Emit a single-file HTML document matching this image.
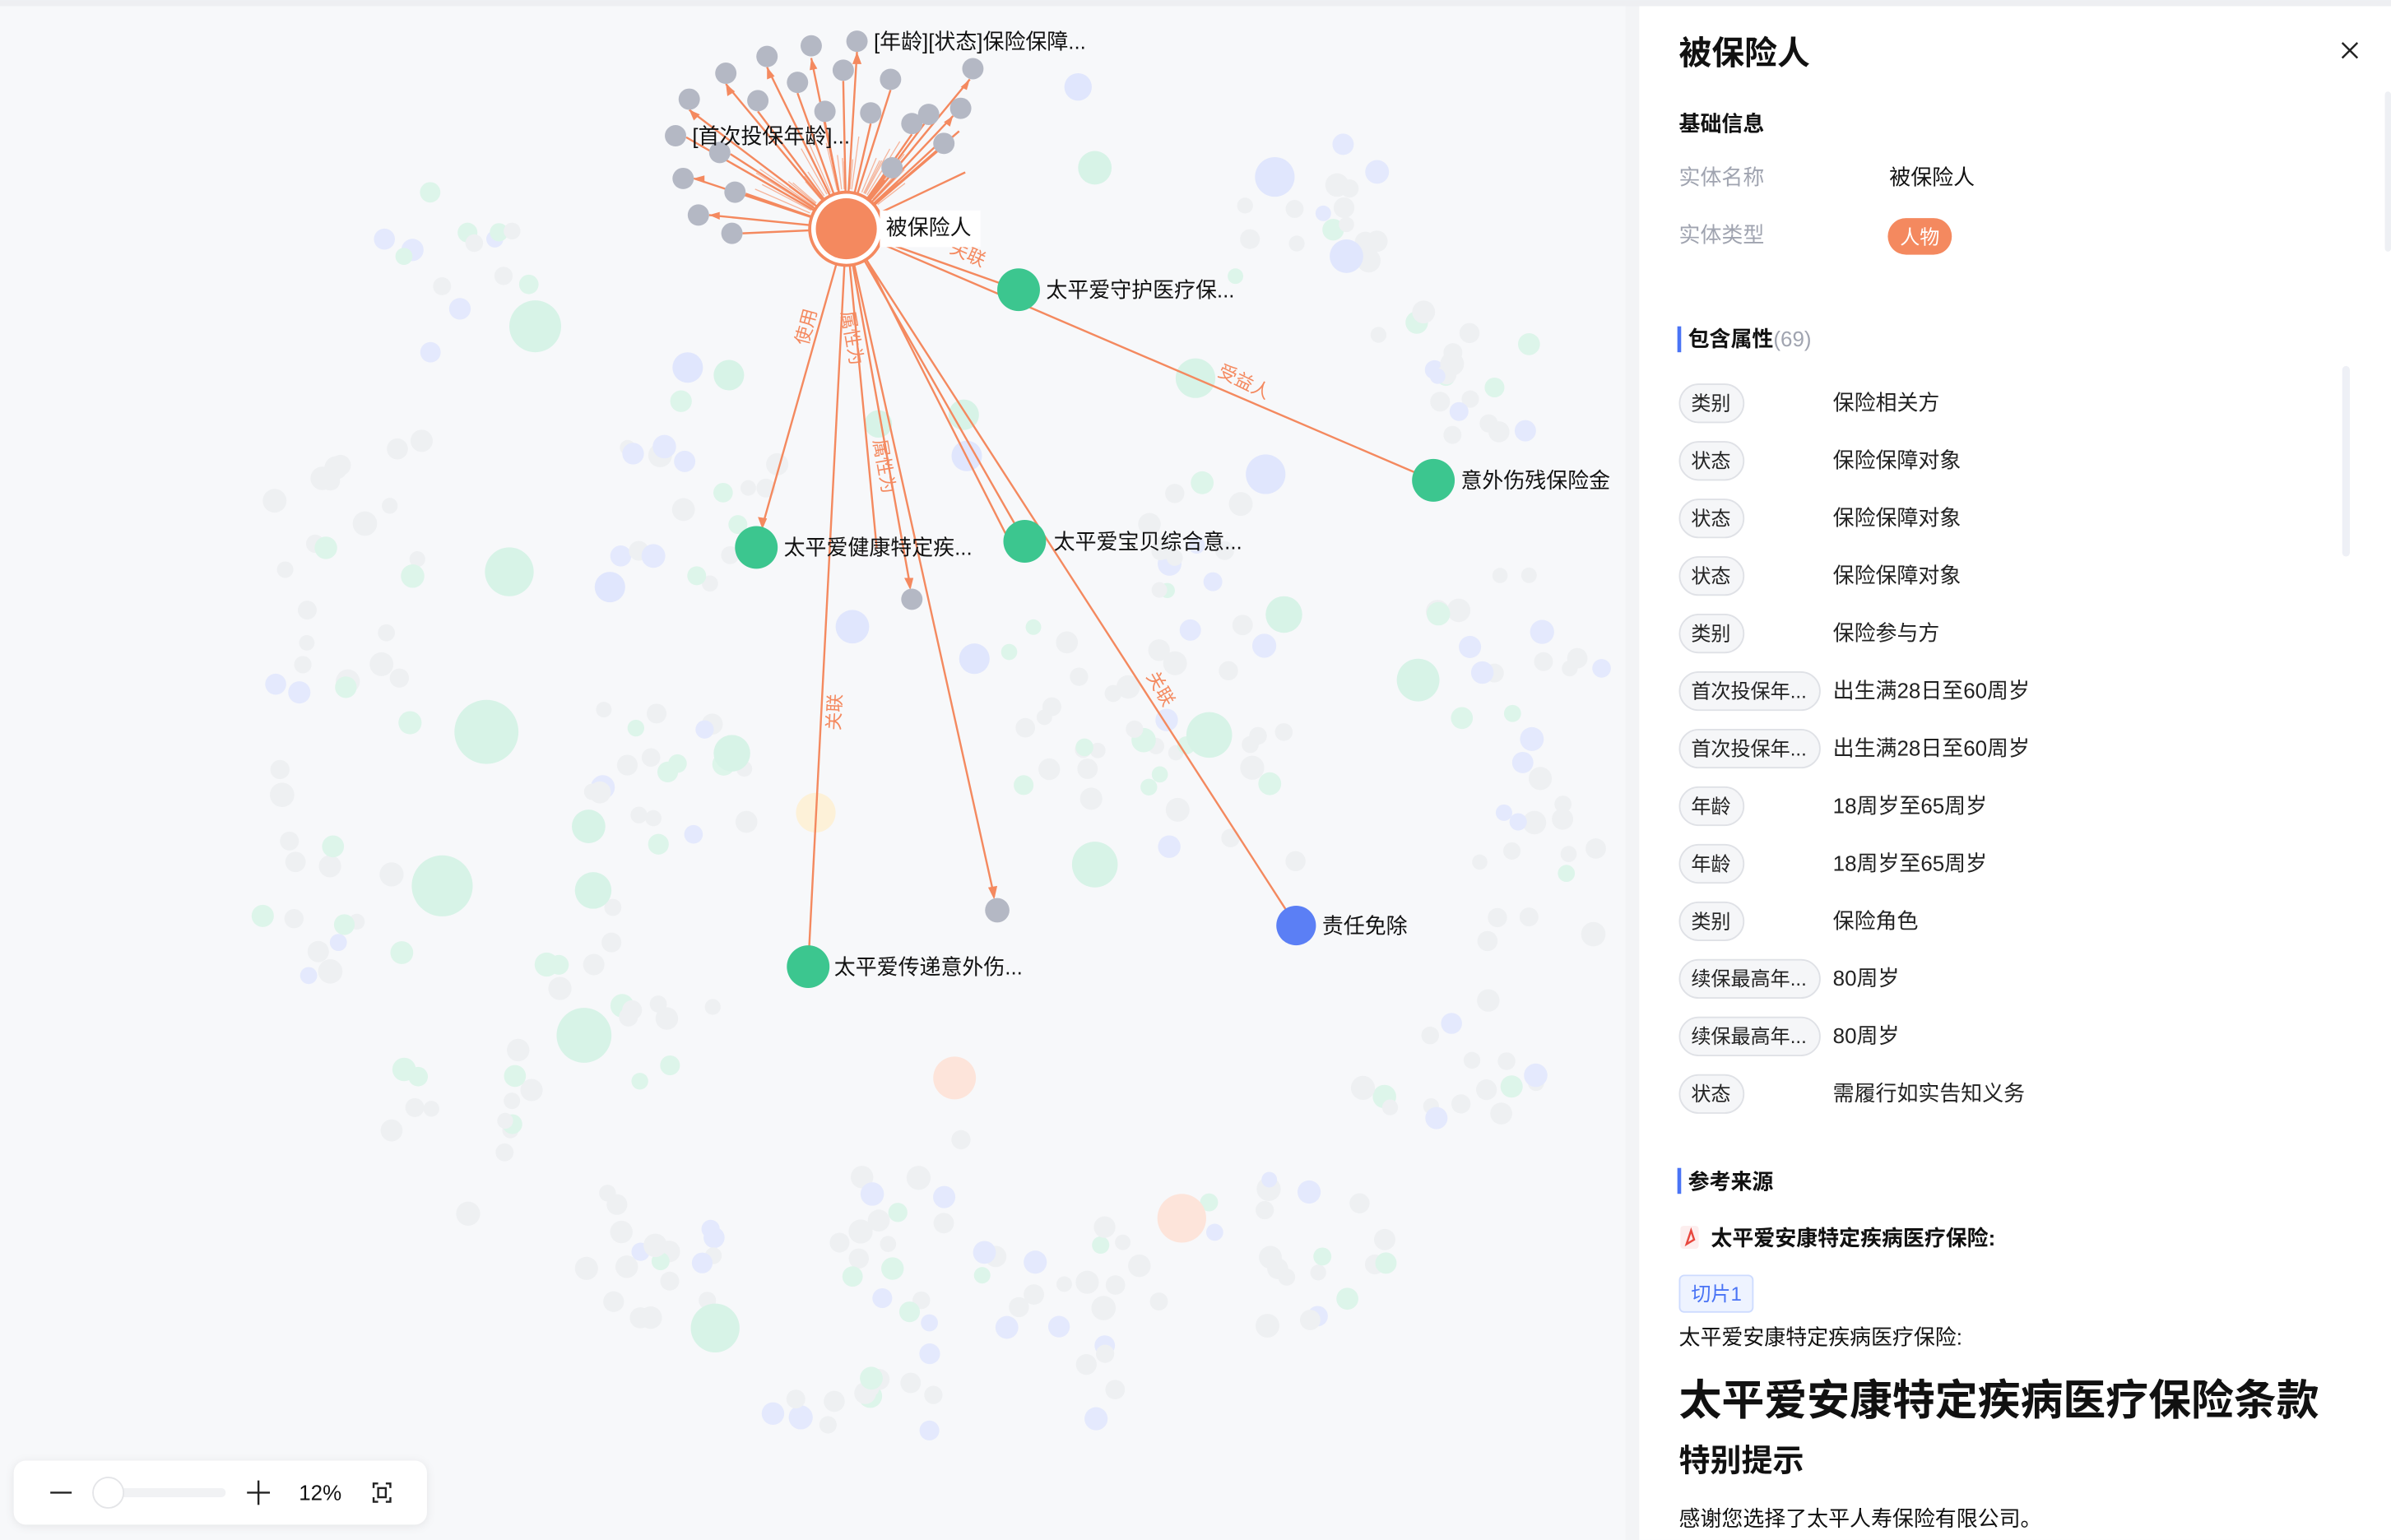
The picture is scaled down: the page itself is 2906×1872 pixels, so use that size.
<!DOCTYPE html>
<html><head><meta charset="utf-8"><style>
html,body{margin:0;padding:0;background:#f7f8fa;}
svg{display:block}
text{font-family:"Liberation Sans","Noto Sans CJK SC",sans-serif;}
</style></head><body>
<svg id="s" width="2906" height="1872" viewBox="0 0 1568 1010" xmlns="http://www.w3.org/2000/svg">
<rect x="0" y="0" width="1568" height="1010" fill="#f7f8fa"/>
<rect x="0" y="0" width="1568" height="4" fill="#eeeff2"/>
<g id="bg"></g>
<g>
<circle cx="351" cy="214" r="17" fill="#d7f3e7"/><circle cx="334" cy="375" r="16" fill="#d7f3e7"/>
<circle cx="319" cy="480" r="21" fill="#d7f3e7"/><circle cx="290" cy="581" r="20" fill="#d7f3e7"/>
<circle cx="383" cy="679" r="18" fill="#d7f3e7"/><circle cx="469" cy="871" r="16" fill="#d7f3e7"/>
<circle cx="626" cy="707" r="14" fill="#fde4da"/><circle cx="775" cy="799" r="16" fill="#fde4da"/>
<circle cx="535" cy="533" r="13" fill="#fdf1d8"/><circle cx="793" cy="482" r="15" fill="#d7f3e7"/>
<circle cx="930" cy="446" r="14" fill="#d7f3e7"/><circle cx="842" cy="403" r="12" fill="#d7f3e7"/>
<circle cx="830" cy="311" r="13" fill="#e0e6fd"/><circle cx="836" cy="116" r="13" fill="#e0e6fd"/>
<circle cx="883" cy="168" r="11" fill="#e0e6fd"/><circle cx="718" cy="567" r="15" fill="#d7f3e7"/>
<circle cx="784" cy="248" r="13" fill="#d7f3e7"/><circle cx="718" cy="110" r="11" fill="#d7f3e7"/>
<circle cx="707" cy="57" r="9" fill="#e0e6fd"/><circle cx="559" cy="411" r="11" fill="#e0e6fd"/>
<circle cx="639" cy="432" r="10" fill="#e0e6fd"/><circle cx="400" cy="385" r="10" fill="#e0e6fd"/>
<circle cx="480" cy="494" r="12" fill="#d7f3e7"/><circle cx="389" cy="584" r="12" fill="#d7f3e7"/>
<circle cx="386" cy="542" r="11" fill="#d7f3e7"/><circle cx="576" cy="278" r="9" fill="#d7f3e7"/>
<circle cx="632" cy="272" r="10" fill="#d7f3e7"/><circle cx="634" cy="299" r="10" fill="#e0e6fd"/>
<circle cx="478" cy="246" r="10" fill="#d7f3e7"/><circle cx="451" cy="241" r="10" fill="#e0e6fd"/>
</g>
<g stroke="#f4895f" stroke-width="1.3" fill="none">
<line x1="555" y1="150" x2="562" y2="34"/><line x1="555" y1="150" x2="532" y2="38"/>
<line x1="555" y1="150" x2="503" y2="44"/><line x1="555" y1="150" x2="476" y2="55"/>
<line x1="555" y1="150" x2="452" y2="72"/><line x1="555" y1="150" x2="450" y2="90"/>
<line x1="555" y1="150" x2="455" y2="117"/><line x1="555" y1="150" x2="465" y2="141"/>
<line x1="555" y1="150" x2="487" y2="153"/><line x1="555" y1="150" x2="489" y2="127"/>
<line x1="555" y1="150" x2="479" y2="101"/><line x1="555" y1="150" x2="497" y2="73"/>
<line x1="555" y1="150" x2="523" y2="61"/><line x1="555" y1="150" x2="541" y2="80"/>
<line x1="555" y1="150" x2="553" y2="53"/><line x1="555" y1="150" x2="584" y2="59"/>
<line x1="555" y1="150" x2="571" y2="81"/><line x1="555" y1="150" x2="598" y2="88"/>
<line x1="555" y1="150" x2="607" y2="80"/><line x1="555" y1="150" x2="625" y2="76"/>
<line x1="555" y1="150" x2="636" y2="52"/><line x1="555" y1="150" x2="615" y2="99"/>
<line x1="555" y1="150" x2="580" y2="118"/><line x1="555" y1="150" x2="620" y2="90"/>
<line x1="555" y1="150" x2="633" y2="113"/><line x1="555" y1="150" x2="629" y2="86"/>
<line x1="555" y1="150" x2="668" y2="190"/><line x1="555" y1="150" x2="940" y2="315"/>
<line x1="555" y1="150" x2="500" y2="345"/><line x1="555" y1="150" x2="672" y2="355"/>
<line x1="558" y1="150" x2="662" y2="355"/><line x1="555" y1="150" x2="530" y2="634"/>
<line x1="555" y1="150" x2="597" y2="385"/><line x1="555" y1="150" x2="652" y2="588"/>
<line x1="555" y1="150" x2="850" y2="607"/><line x1="555" y1="150" x2="575" y2="360"/>
</g>
<g stroke="#f4895f" stroke-width="0.7" opacity="0.6" id="clutter"></g>
<g fill="#f4895f">
<path d="M500 347 l-3 -8 l6 1z"/><path d="M597 387 l-4 -8 l6 0z"/><path d="M652 590 l-4 -8 l6 -1z"/>
<path d="M562 34 l-3 8 l6 0z"/><path d="M532 38 l-1 8 l5 -1z"/><path d="M503 44 l0 8 l5 -2z"/>
<path d="M476 55 l1 8 l5 -3z"/><path d="M452 72 l3 7 l4 -4z"/><path d="M455 117 l7 3 l0 -5z"/>
<path d="M465 141 l7 3 l0 -5z"/><path d="M636 52 l-6 5 l4 2z"/><path d="M625 76 l-6 4 l4 3z"/>
</g>
<g fill="#f4895f" font-size="12">
<text x="622" y="170" transform="rotate(24 633 168)">关联</text>
<text x="798" y="254" transform="rotate(26 815 250)">受益人</text>
<text x="518" y="222" transform="rotate(-75 527 217)">使用</text>
<text x="540" y="478" transform="rotate(-87 546 473)">关联</text>
<text x="750" y="454" transform="rotate(60 760 450)">关联</text>
<text x="570" y="300" transform="rotate(80 578 296)">属性为</text>
<text x="548" y="215" transform="rotate(80 556 212)">属性为</text>
</g>
<g fill="#b4b8c4">
<circle cx="562" cy="27" r="7"/><circle cx="532" cy="30" r="7"/><circle cx="503" cy="37" r="7"/>
<circle cx="476" cy="48" r="7"/><circle cx="452" cy="65" r="7"/><circle cx="443" cy="89" r="7"/>
<circle cx="448" cy="117" r="7"/><circle cx="458" cy="141" r="7"/><circle cx="480" cy="153" r="7"/>
<circle cx="482" cy="126" r="7"/><circle cx="472" cy="100" r="7"/><circle cx="497" cy="66" r="7"/>
<circle cx="523" cy="54" r="7"/><circle cx="541" cy="73" r="7"/><circle cx="553" cy="46" r="7"/>
<circle cx="584" cy="52" r="7"/><circle cx="571" cy="74" r="7"/><circle cx="598" cy="81" r="7"/>
<circle cx="630" cy="71" r="7"/><circle cx="638" cy="45" r="7"/><circle cx="619" cy="94" r="7"/>
<circle cx="585" cy="110" r="7"/><circle cx="609" cy="75" r="7"/>
<circle cx="598" cy="393" r="7"/><circle cx="654" cy="597" r="8"/>
</g>
<circle cx="555" cy="150" r="24" fill="#fff" stroke="#f4895f" stroke-width="2"/>
<circle cx="555" cy="150" r="20" fill="#f4895f"/>
<rect x="577" y="138" width="66" height="24" fill="#fff"/>
<g fill="#3cc68f">
<circle cx="668" cy="190" r="14"/><circle cx="940" cy="315" r="14"/><circle cx="496" cy="359" r="14"/>
<circle cx="672" cy="355" r="14"/><circle cx="530" cy="634" r="14"/>
</g>
<circle cx="850" cy="607" r="13" fill="#5b7ff5"/>
<g fill="#111" font-size="14">
<text x="581" y="154">被保险人</text>
<text x="686" y="195">太平爱守护医疗保...</text>
<text x="958" y="320">意外伤残保险金</text>
<text x="514" y="364">太平爱健康特定疾...</text>
<text x="691" y="360">太平爱宝贝综合意...</text>
<text x="547" y="639">太平爱传递意外伤...</text>
<text x="867" y="612">责任免除</text>
<text x="454" y="94">[首次投保年龄]...</text>
<text x="573" y="32">[年龄][状态]保险保障...</text>
</g>
<rect x="9" y="958" width="271" height="42" rx="8" fill="#fff" style="filter:drop-shadow(0 1px 3px rgba(0,0,0,0.08))"/>
<line x1="33" y1="979" x2="47" y2="979" stroke="#222" stroke-width="1.3"/>
<rect x="66" y="976" width="82" height="6" rx="3" fill="#f1f2f4"/>
<circle cx="71" cy="979" r="10" fill="#fff" stroke="#e4e5e8"/>
<line x1="162" y1="979" x2="177" y2="979" stroke="#222" stroke-width="1.3"/>
<line x1="169.5" y1="971" x2="169.5" y2="987" stroke="#222" stroke-width="1.3"/>
<text x="196" y="984" font-size="14" fill="#111">12%</text>
<g stroke="#222" stroke-width="1.3" fill="none">
<path d="M245 976 v-3 h3 M253 973 h3 v3 M256 982 v3 h-3 M248 985 h-3 v-3"/>
<rect x="248" y="976" width="5" height="6"/>
</g>
<rect x="1075" y="4" width="493" height="1006" fill="#fff"/>
<rect x="1066" y="4" width="9" height="1006" fill="#f0f1f3" opacity="0.6"/>
<rect x="1564" y="60" width="4" height="105" rx="2" fill="#eef0f4"/>
<rect x="1536" y="240" width="5" height="125" rx="2.5" fill="#eef0f6"/>
<text x="1101" y="42" font-size="21.5" font-weight="bold" fill="#111">被保险人</text>
<path d="M1536 28 l10 10 M1546 28 l-10 10" stroke="#222" stroke-width="1.3"/>
<text x="1101" y="86" font-size="14" font-weight="bold" fill="#111">基础信息</text>
<text x="1101" y="121" font-size="14" fill="#a0a4b0">实体名称</text>
<text x="1239" y="121" font-size="14" fill="#111">被保险人</text>
<text x="1101" y="159" font-size="14" fill="#a0a4b0">实体类型</text>
<rect x="1238" y="143" width="42" height="24" rx="12" fill="#f4895f"/>
<text x="1246" y="160" font-size="13" fill="#fff">人物</text>
<rect x="1100" y="214" width="2.5" height="17" fill="#4a74f5"/>
<text x="1107" y="227" font-size="14" font-weight="bold" fill="#111">包含属性<tspan font-weight="normal" fill="#a0a4b0">(69)</tspan></text>
<g font-size="14" fill="#222" id="rows"></g>
<rect x="1100" y="766" width="2.5" height="17" fill="#4a74f5"/>
<text x="1107" y="780" font-size="14" font-weight="bold" fill="#111">参考来源</text>
<rect x="1102" y="804" width="12" height="15" rx="2" fill="#fdeeee"/>
<path d="M1106 816 l3 -9 l2 6 z" fill="none" stroke="#e8483f" stroke-width="1.3"/>
<text x="1122" y="817" font-size="14" font-weight="bold" fill="#111">太平爱安康特定疾病医疗保险:</text>
<rect x="1101.5" y="836.5" width="48" height="24" rx="3" fill="#eef3ff" stroke="#cddbff"/>
<text x="1109" y="853" font-size="13" fill="#4a74f5">切片1</text>
<text x="1101" y="882" font-size="14" fill="#111">太平爱安康特定疾病医疗保险:</text>
<text x="1101" y="928" font-size="28" font-weight="bold" fill="#111">太平爱安康特定疾病医疗保险条款</text>
<text x="1101" y="965" font-size="20.5" font-weight="bold" fill="#111">特别提示</text>
<text x="1101" y="1001" font-size="14" fill="#111">感谢您选择了太平人寿保险有限公司。</text>
</svg>
<script>
var NS="http://www.w3.org/2000/svg";
function el(p,t,a,txt){var e=document.createElementNS(NS,t);for(var k in a)e.setAttribute(k,a[k]);if(txt)e.textContent=txt;p.appendChild(e);return e;}
var rows=[["类别","保险相关方"],["状态","保险保障对象"],["状态","保险保障对象"],["状态","保险保障对象"],["类别","保险参与方"],["首次投保年...","出生满28日至60周岁"],["首次投保年...","出生满28日至60周岁"],["年龄","18周岁至65周岁"],["年龄","18周岁至65周岁"],["类别","保险角色"],["续保最高年...","80周岁"],["续保最高年...","80周岁"],["状态","需履行如实告知义务"]];
var g=document.getElementById("rows");
rows.forEach(function(r,i){var y=264+i*37.75;var w=r[0].length>2?92:42;
el(g,"rect",{x:1101.5,y:y-12,width:w,height:25,rx:12.5,fill:"#f5f6f8",stroke:"#dfe1e6"});
el(g,"text",{x:1109,y:y+5,"font-size":13,fill:"#222"},r[0]);
el(g,"text",{x:1202,y:y+5,"font-size":14,fill:"#222"},r[1]);});
var bg=document.getElementById("bg");var seed=7;function rnd(){seed=(seed*16807)%2147483647;return seed/2147483647;}
var cols=["#eef0f2","#eef0f2","#eef0f2","#eef0f2","#e4e9fd","#ddf5ea"];
// clusters arranged in ring
var cl=[[300,170],[230,330],[210,460],[215,600],[300,740],[420,840],[560,900],[720,870],[850,820],[950,700],[1010,560],[1000,420],[960,250],[860,150],[430,520],[450,320],[420,650],[600,800],[810,520],[700,470],[780,380]];
cl.forEach(function(c){var n=14+Math.floor(rnd()*6);for(var i=0;i<n;i++){var a=rnd()*Math.PI*2,rr=12+rnd()*55;var x=c[0]+Math.cos(a)*rr,y=c[1]+Math.sin(a)*rr;
if(x<160||x>1060||y<40||y>950)continue;if(Math.hypot(x-555,y-100)<100)continue;
el(bg,"circle",{cx:x.toFixed(1),cy:y.toFixed(1),r:(5+rnd()*3).toFixed(1),fill:cols[Math.floor(rnd()*cols.length)]});}});
var cg=document.getElementById("clutter");
for(var i=0;i<40;i++){var a=-Math.PI*(0.15+rnd()*0.75);var r1=26,r2=40+rnd()*30;
el(cg,"line",{x1:555+Math.cos(a)*r1,y1:150+Math.sin(a)*r1,x2:555+Math.cos(a)*r2,y2:150+Math.sin(a)*r2});}
</script>
</body></html>
